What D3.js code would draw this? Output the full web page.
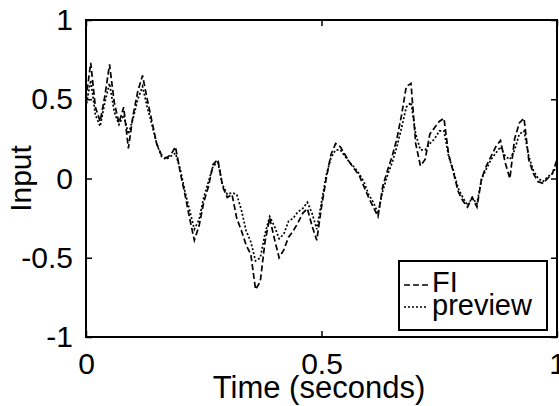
<!DOCTYPE html>
<html>
<head>
<meta charset="utf-8">
<script src="https://cdn.jsdelivr.net/npm/d3@7"></script>
<style>
  body { margin: 0; background: #fff; }
  text { font-family: "Liberation Sans", Arial, sans-serif; fill: #000; }
</style>
</head>
<body>
<div id="chart"></div>
<script>
const time = [
  0.00, 0.01, 0.02, 0.03, 0.04, 0.05, 0.06, 0.07, 0.08, 0.09,
  0.10, 0.11, 0.12, 0.13, 0.14, 0.15, 0.16, 0.17, 0.18, 0.19,
  0.20, 0.21, 0.22, 0.23, 0.24, 0.25, 0.26, 0.27, 0.28, 0.29,
  0.30, 0.31, 0.32, 0.33, 0.34, 0.35, 0.36, 0.37, 0.38, 0.39,
  0.40, 0.41, 0.42, 0.43, 0.44, 0.45, 0.46, 0.47, 0.48, 0.49,
  0.50, 0.51, 0.52, 0.53, 0.54, 0.55, 0.56, 0.57, 0.58, 0.59,
  0.60, 0.61, 0.62, 0.63, 0.64, 0.65, 0.66, 0.67, 0.68, 0.69,
  0.70, 0.71, 0.72, 0.73, 0.74, 0.75, 0.76, 0.77, 0.78, 0.79,
  0.80, 0.81, 0.82, 0.83, 0.84, 0.85, 0.86, 0.87, 0.88, 0.89,
  0.90, 0.91, 0.92, 0.93, 0.94, 0.95, 0.96, 0.97, 0.98, 0.99, 1.00
];

const fi = [
  0.50, 0.73, 0.45, 0.36, 0.52, 0.72, 0.48, 0.35, 0.45, 0.19,
  0.40, 0.55, 0.65, 0.50, 0.36, 0.22, 0.15, 0.13, 0.15, 0.20,
  0.04, -0.10, -0.25, -0.39, -0.30, -0.15, -0.05, 0.09, 0.12, -0.05,
  -0.12, -0.10, -0.25, -0.33, -0.42, -0.48, -0.70, -0.65, -0.40, -0.25,
  -0.38, -0.50, -0.45, -0.37, -0.33, -0.28, -0.22, -0.19, -0.30, -0.39,
  -0.18, 0.00, 0.15, 0.22, 0.20, 0.15, 0.10, 0.06, 0.02, -0.05,
  -0.12, -0.18, -0.24, -0.05, 0.05, 0.14, 0.25, 0.40, 0.58, 0.60,
  0.22, 0.08, 0.12, 0.28, 0.32, 0.36, 0.38, 0.15, 0.04, -0.08,
  -0.14, -0.18, -0.12, -0.18, 0.00, 0.08, 0.14, 0.20, 0.24, 0.10,
  0.00, 0.25, 0.35, 0.38, 0.12, 0.03, -0.02, -0.03, 0.00, 0.03, 0.12
];

const preview = [
  0.45, 0.62, 0.40, 0.33, 0.48, 0.60, 0.42, 0.34, 0.40, 0.28,
  0.38, 0.50, 0.58, 0.45, 0.34, 0.22, 0.14, 0.12, 0.14, 0.16,
  0.06, -0.08, -0.20, -0.32, -0.26, -0.12, -0.02, 0.08, 0.10, -0.04,
  -0.10, -0.09, -0.10, -0.20, -0.33, -0.40, -0.52, -0.50, -0.35, -0.24,
  -0.30, -0.38, -0.35, -0.27, -0.25, -0.21, -0.19, -0.15, -0.22, -0.32,
  -0.15, 0.02, 0.13, 0.18, 0.18, 0.14, 0.10, 0.07, 0.03, -0.02,
  -0.10, -0.15, -0.22, -0.08, 0.02, 0.10, 0.20, 0.32, 0.45, 0.48,
  0.28, 0.18, 0.18, 0.22, 0.25, 0.30, 0.30, 0.14, 0.05, -0.06,
  -0.12, -0.17, -0.12, -0.16, 0.00, 0.06, 0.12, 0.16, 0.20, 0.14,
  0.12, 0.18, 0.28, 0.30, 0.14, 0.05, 0.00, -0.02, 0.01, 0.03, 0.08
];

const xTicks = [0, 0.5, 1];
const yTicks = [-1, -0.5, 0, 0.5, 1];
const seriesNames = ["FI", "preview"];
const dashes = ["6,3", "2,2"];

const svgWidth = 559;
const svgHeight = 406;
const margin = { top: 20, right: 2, bottom: 69, left: 86 };
const chartWidth = svgWidth - margin.left - margin.right;
const chartHeight = svgHeight - margin.top - margin.bottom;

const svg = d3.select("#chart")
    .append("svg")
    .attr("width", svgWidth)
    .attr("height", svgHeight);

const chartGroup = svg.append("g")
    .attr("transform", `translate(${margin.left}, ${margin.top})`);

const xScale = d3.scaleLinear().domain([0, 1]).range([0, chartWidth]);
const yScale = d3.scaleLinear().domain([-1, 1]).range([chartHeight, 0]);

// plain hyphen minus, like the original
const fmt = d => String(d);

// inward ticks on all four sides
const axes = [
    { axis: d3.axisBottom(xScale), tr: `translate(0, ${chartHeight})`, labels: true, pad: 16 },
    { axis: d3.axisTop(xScale), tr: "translate(0, 0)", labels: false, pad: 12 },
    { axis: d3.axisLeft(yScale), tr: "translate(0, 0)", labels: true, pad: 13 },
    { axis: d3.axisRight(yScale), tr: `translate(${chartWidth}, 0)`, labels: false, pad: 12 }
];
axes.forEach((a, i) => {
    const isX = i < 2;
    const g = chartGroup.append("g")
        .attr("transform", a.tr)
        .call(a.axis.tickValues(isX ? xTicks : yTicks)
            .tickSizeInner(-6).tickSizeOuter(0)
            .tickPadding(a.pad)
            .tickFormat(a.labels ? fmt : ""));
    g.select(".domain").remove();
    g.selectAll("line").attr("stroke", "#000").attr("stroke-width", 1.5);
    g.selectAll("text")
        .style("font-size", "30px")
        .style("font-family", "'Liberation Sans', Arial, sans-serif");
});

chartGroup.append("rect")
    .attr("x", 0).attr("y", 0)
    .attr("width", chartWidth).attr("height", chartHeight)
    .attr("fill", "none")
    .attr("stroke", "#000")
    .attr("stroke-width", 2);

const line = d3.line()
    .x((d, i) => xScale(time[i]))
    .y(d => yScale(d));

[fi, preview].forEach((s, i) => {
    chartGroup.append("path")
        .datum(s)
        .attr("d", line)
        .attr("fill", "none")
        .attr("stroke", "#000")
        .attr("stroke-width", 1.7)
        .attr("stroke-dasharray", dashes[i]);
});

// legend
const legend = chartGroup.append("g")
    .attr("transform", `translate(${chartWidth - 158}, ${chartHeight - 76})`);
legend.append("rect")
    .attr("width", 148).attr("height", 69)
    .attr("fill", "#fff")
    .attr("stroke", "#000")
    .attr("stroke-width", 2);
seriesNames.forEach((n, i) => {
    legend.append("line")
        .attr("x1", 5).attr("x2", 29)
        .attr("y1", 24 + i * 22).attr("y2", 24 + i * 22)
        .attr("stroke", "#000")
        .attr("stroke-width", 1.4)
        .attr("stroke-dasharray", dashes[i]);
    legend.append("text")
        .attr("x", 33)
        .attr("y", 31 + i * 23)
        .style("font-size", "29px")
        .text(n);
});

svg.append("text")
    .attr("x", (210 + 428) / 2)
    .attr("y", 398)
    .attr("text-anchor", "middle")
    .style("font-size", "31px")
    .text("Time (seconds)");

svg.append("text")
    .attr("transform", `translate(31, ${margin.top + yScale(0)}) rotate(-90)`)
    .attr("text-anchor", "middle")
    .style("font-size", "30px")
    .text("Input");
</script>
</body>
</html>
